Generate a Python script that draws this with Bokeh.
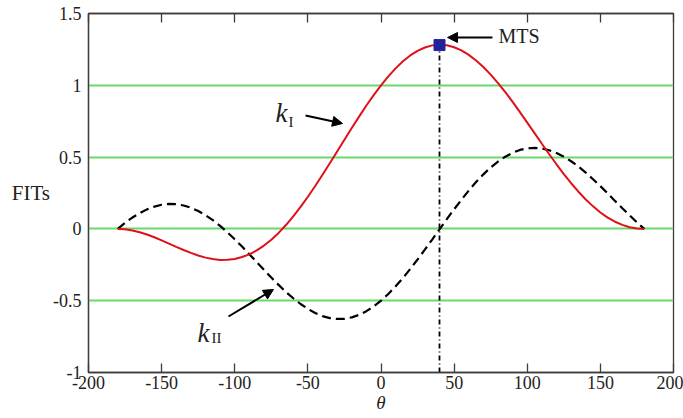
from bokeh.plotting import figure
from bokeh.models import Range1d, LinearAxis, FixedTicker, Label, Arrow, NormalHead
from bokeh.embed import file_html
from bokeh.resources import INLINE

# ---- data ----
theta = list(range(-180, 181, 5))
k_I = [0.0, -0.003, -0.011, -0.023, -0.039, -0.058, -0.080, -0.102, -0.125, -0.147,
       -0.167, -0.185, -0.200, -0.210, -0.216, -0.215, -0.209, -0.196, -0.177, -0.150,
       -0.116, -0.075, -0.028, 0.027, 0.087, 0.153, 0.224, 0.299, 0.377, 0.457,
       0.539, 0.621, 0.703, 0.782, 0.859, 0.932, 1.0, 1.062, 1.118, 1.167,
       1.208, 1.240, 1.263, 1.278, 1.283, 1.279, 1.265, 1.243, 1.212, 1.173,
       1.127, 1.074, 1.015, 0.952, 0.884, 0.813, 0.740, 0.667, 0.593, 0.520,
       0.450, 0.382, 0.318, 0.259, 0.205, 0.157, 0.114, 0.079, 0.050, 0.028,
       0.012, 0.003, 0.0]
k_II = [0.0, 0.042, 0.079, 0.110, 0.136, 0.155, 0.168, 0.174, 0.172, 0.163,
        0.148, 0.125, 0.096, 0.061, 0.021, -0.024, -0.072, -0.123, -0.177, -0.231,
        -0.285, -0.339, -0.390, -0.439, -0.483, -0.523, -0.557, -0.586, -0.607, -0.621,
        -0.627, -0.626, -0.616, -0.599, -0.573, -0.540, -0.5, -0.453, -0.400, -0.342,
        -0.279, -0.213, -0.144, -0.074, -0.003, 0.068, 0.137, 0.203, 0.267, 0.326,
        0.380, 0.428, 0.469, 0.503, 0.530, 0.550, 0.561, 0.564, 0.560, 0.548,
        0.529, 0.503, 0.471, 0.434, 0.392, 0.346, 0.298, 0.247, 0.195, 0.144,
        0.094, 0.045, 0.0]
mts_theta = [40]
mts_value = [1.28]

x_ticks = [-200, -150, -100, -50, 0, 50, 100, 150, 200]
x_tick_labels = ["-200", "-150", "-100", "-50", "0", "50", "100", "150", "200"]
y_ticks = [-1, -0.5, 0, 0.5, 1, 1.5]
y_tick_labels = ["-1", "-0.5", "0", "0.5", "1", "1.5"]
grid_levels = [-0.5, 0, 0.5, 1]

FONT = "Liberation Serif"
FRAME = "#3c3c3c"
TEXT = "#222222"

p = figure(width=683, height=418, output_backend="svg", toolbar_location=None,
           x_range=Range1d(-200, 200), y_range=Range1d(-1, 1.5),
           min_border_left=88, min_border_right=10, min_border_top=13, min_border_bottom=46)
p.background_fill_color = "white"
p.border_fill_color = "white"
p.outline_line_color = FRAME
p.outline_line_width = 1.3

# grid
p.xgrid.visible = False
p.ygrid.ticker = FixedTicker(ticks=grid_levels)
p.ygrid.grid_line_color = "#6ad86a"
p.ygrid.grid_line_width = 2

# bottom axis
xa = p.xaxis[0]
xa.ticker = FixedTicker(ticks=x_ticks)
xa.major_label_overrides = {t: l for t, l in zip(x_ticks, x_tick_labels)}
xa.major_tick_in = 9
xa.major_tick_out = 0
xa.minor_tick_line_color = None
xa.axis_line_color = FRAME
xa.axis_line_width = 1.3
xa.major_tick_line_color = FRAME
xa.major_tick_line_width = 1.3
xa.major_label_text_font = FONT
xa.major_label_text_font_size = "18px"
xa.major_label_text_color = TEXT
xa.major_label_standoff = 3
xa.axis_label = "θ"
xa.axis_label_text_font = FONT
xa.axis_label_text_font_size = "19px"
xa.axis_label_text_font_style = "italic"
xa.axis_label_text_color = TEXT
xa.axis_label_standoff = 0

# left axis
ya = p.yaxis[0]
ya.ticker = FixedTicker(ticks=y_ticks)
ya.major_label_overrides = {t: l for t, l in zip(y_ticks, y_tick_labels)}
ya.major_tick_line_color = None
ya.major_tick_in = 0
ya.major_tick_out = 0
ya.minor_tick_line_color = None
ya.axis_line_color = FRAME
ya.axis_line_width = 1.3
ya.major_label_text_font = FONT
ya.major_label_text_font_size = "18px"
ya.major_label_text_color = TEXT
ya.major_label_standoff = 7
ya.axis_label = "FITs"
ya.axis_label_orientation = "horizontal"
ya.axis_label_text_font = FONT
ya.axis_label_text_font_size = "21px"
ya.axis_label_text_font_style = "normal"
ya.axis_label_text_color = TEXT
ya.axis_label_standoff = 0

# top axis (ticks only)
top = LinearAxis(ticker=FixedTicker(ticks=x_ticks))
top.major_label_overrides = {t: "" for t in x_ticks}
top.major_label_standoff = 0
top.major_tick_in = 9
top.major_tick_out = 0
top.minor_tick_line_color = None
top.axis_line_color = FRAME
top.axis_line_width = 1.3
top.major_tick_line_color = FRAME
top.major_tick_line_width = 1.3
p.add_layout(top, "above")

# curves
p.line(theta, k_II, line_color="black", line_width=2.2, line_dash="9 5")
p.line(theta, k_I, line_color="#e01018", line_width=2)

# MTS vertical line and marker
p.line([mts_theta[0], mts_theta[0]], [y_ticks[0], mts_value[0]], line_color="black",
       line_width=1.8, line_dash="5 3 1 3")
p.scatter(mts_theta, mts_value, marker="square", size=11, fill_color="#22229a",
          line_color="#22229a")

# arrows
for (x0, y0, x1, y1) in [(76.2, 1.333, 45.5, 1.333),
                         (-51.6, 0.790, -26.3, 0.734),
                         (-104.3, -0.610, -73.5, -0.422)]:
    p.add_layout(Arrow(end=NormalHead(size=10, fill_color="black", line_color="black"),
                       x_start=x0, y_start=y0, x_end=x1, y_end=y1,
                       line_color="black", line_width=2))

def lab(x, y, text, size, style="normal", align="left", baseline="alphabetic"):
    p.add_layout(Label(x=x, y=y, text=text, text_font=FONT,
                       text_font_size=size, text_font_style=style,
                       text_align=align, text_baseline=baseline, text_color=TEXT))

lab(80.3, 1.343, "MTS", "20px", baseline="middle")
lab(-72.1, 0.804, "k", "27px", style="italic")
lab(-63.2, 0.741, "I", "15px")
lab(-125.5, -0.728, "k", "27px", style="italic")
lab(-115.9, -0.763, "II", "15px")

open("out.html", "w").write(file_html(p, INLINE))
